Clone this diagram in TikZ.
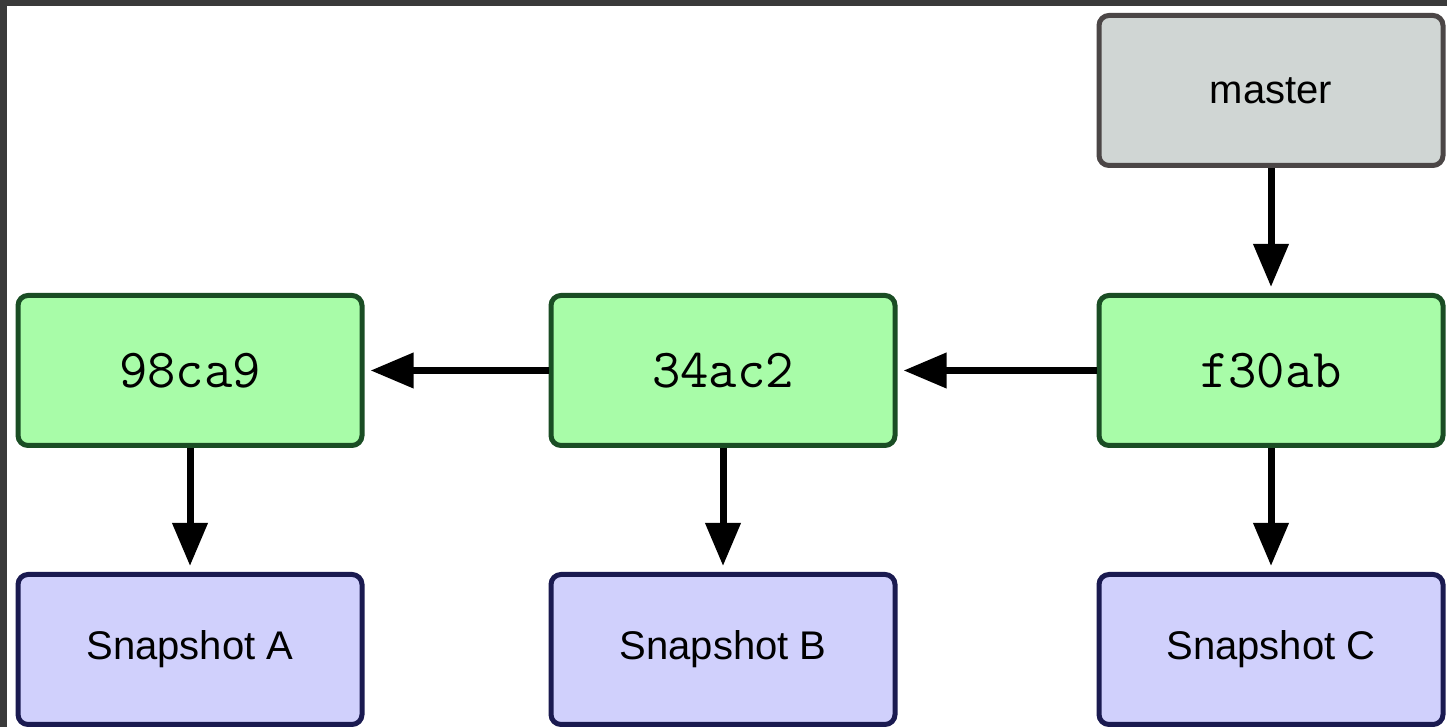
\documentclass[tikz,border=0pt]{standalone}
\usepackage{fontspec}
\setsansfont{Liberation Sans}
\usepackage{xcolor}
\usetikzlibrary{arrows.meta, positioning}
\definecolor{framegray}{HTML}{3A3A3A}
\definecolor{commitfill}{HTML}{A8FCA8}
\definecolor{commitline}{HTML}{1A4D24}
\definecolor{snapfill}{HTML}{D0D0FC}
\definecolor{snapline}{HTML}{1A1A50}
\definecolor{branchfill}{HTML}{D0D6D4}
\definecolor{branchline}{HTML}{4B4646}

\begin{document}
\begin{tikzpicture}[x=1pt, y=1pt,
    box/.style={rectangle, rounded corners=10pt, line width=5pt, minimum width=344pt, minimum height=150pt, inner sep=0pt},
    commit/.style={box, fill=commitfill, draw=commitline, font=\fontsize{55}{60}\selectfont\ttfamily},
    snap/.style={box, fill=snapfill, draw=snapline, font=\fontsize{40}{48}\selectfont\sffamily},
    branch/.style={box, fill=branchfill, draw=branchline, font=\fontsize{40}{48}\selectfont\sffamily},
    ptr/.style={line width=7pt, -{Triangle[length=43pt, width=34pt]}, shorten >=6pt}]

      \fill[white] (0, 0) rectangle (1447, 727);
      \fill[framegray] (0, 721) rectangle (1447, 727);
      \fill[framegray] (0, 0) rectangle (7, 727);
      \useasboundingbox (0, 0) rectangle (1447, 727);

      \node[commit] (c98) at (190, 356.5) {98ca9};
      \node[commit, right=184pt of c98] (c34) {34ac2};
      \node[commit, right=199pt of c34] (cf30) {f30ab};

      \node[branch, above=125pt of cf30] (master) {master};

      \node[snap, below=124pt of c98] (snapA) {Snapshot A};
      \node[snap, below=124pt of c34] (snapB) {Snapshot B};
      \node[snap, below=124pt of cf30] (snapC) {Snapshot C};

      \draw[ptr] (c34) -- (c98);
      \draw[ptr] (cf30) -- (c34);
      \draw[ptr] (master) -- (cf30);
      \foreach \c/\s in {c98/snapA, c34/snapB, cf30/snapC}
        \draw[ptr] (\c) -- (\s);

    \end{tikzpicture}
\end{document}
